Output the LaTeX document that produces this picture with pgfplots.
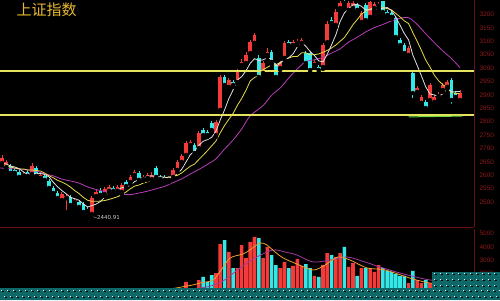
\documentclass[border=0pt]{standalone}
\usepackage{fontspec}
\setmainfont{Liberation Sans}
\newfontfamily\cjk{Noto Sans CJK SC}
\newfontfamily\dejavu{DejaVu Sans}
\usepackage{pgfplots}
\usepackage{pgfplotstable}
\pgfplotsset{compat=1.18}
\definecolor{cred}{RGB}{245,58,58}
\definecolor{ccyan}{RGB}{52,232,232}
\definecolor{dred}{RGB}{105,14,14}
\definecolor{dlab}{RGB}{140,26,26}
\definecolor{ma5}{RGB}{225,225,225}
\definecolor{ma10}{RGB}{230,220,70}
\definecolor{ma20}{RGB}{185,60,185}
\definecolor{hline}{RGB}{228,228,95}
\definecolor{gline}{RGB}{110,215,60}
\definecolor{gold}{RGB}{232,184,48}
\definecolor{vma1}{RGB}{235,160,50}
\definecolor{vma2}{RGB}{160,60,160}
\definecolor{teal1}{RGB}{14,104,104}

\pgfplotstableread{
i lo hi bot top
0 2638 2676 2646 2665
1 2624 2657 2631 2650
5 2590 2612 2598 2605
7 2598 2646 2605 2635
9 2583 2609 2590 2601
14 2500 2538 2508 2530
15 2463 2530 2515 2523
17 2493 2515 2500 2508
21 2440.91 2523 2456 2515
22 2515 2549 2523 2538
24 2523 2556 2530 2549
25 2534 2564 2542 2556
27 2534 2564 2542 2556
28 2530 2571 2538 2564
30 2568 2601 2575 2594
31 2594 2620 2601 2612
33 2579 2601 2586 2594
34 2583 2609 2590 2601
35 2579 2612 2586 2601
39 2575 2598 2583 2590
40 2586 2627 2594 2620
41 2612 2657 2620 2650
42 2642 2680 2650 2672
43 2668 2728 2676 2721
44 2706 2732 2713 2724
46 2695 2765 2702 2758
50 2743 2806 2750 2799
51 2836 2974 2844 2967
53 2922 2963 2930 2956
55 2941 2997 2948 2985
56 3004 3034 3012 3023
57 3012 3060 3019 3049
58 3049 3105 3056 3097
59 3086 3131 3094 3123
61 2974 3027 2982 3019
62 3041 3075 3049 3060
65 2993 3027 3000 3019
66 3030 3101 3038 3094
68 3079 3105 3086 3097
69 3086 3109 3094 3097
70 3086 3112 3094 3105
73 3004 3030 3012 3023
75 2997 3094 3004 3086
76 3090 3176 3097 3165
78 3153 3220 3161 3209
79 3217 3250 3224 3243
81 3209 3250 3217 3243
82 3217 3250 3224 3243
84 3165 3213 3172 3206
86 3183 3252 3191 3247
87 3217 3247 3224 3239
88 3224 3247 3232 3239
95 3041 3082 3049 3075
97 2903 2933 2911 2926
98 2862 2900 2870 2892
100 2874 2944 2881 2937
101 2866 2900 2874 2892
102 2889 2911 2896 2903
103 2911 2944 2918 2937
104 2922 2956 2930 2948
107 2874 2918 2881 2907
}\redtab

\pgfplotstableread{
i lo hi bot top
2 2601 2642 2609 2635
3 2601 2627 2609 2620
4 2586 2620 2594 2612
6 2590 2620 2598 2612
8 2590 2635 2598 2627
10 2575 2605 2583 2598
11 2545 2586 2553 2579
12 2527 2560 2534 2553
13 2508 2542 2515 2534
16 2482 2527 2489 2519
18 2474 2508 2482 2500
19 2456 2500 2463 2493
20 2460 2482 2467 2474
23 2519 2553 2527 2542
26 2534 2560 2542 2553
29 2553 2583 2560 2575
32 2575 2616 2583 2609
36 2586 2635 2594 2627
37 2579 2601 2586 2594
38 2575 2601 2583 2594
45 2676 2721 2683 2713
47 2743 2777 2750 2769
48 2743 2769 2750 2762
49 2762 2803 2769 2795
52 2930 2974 2937 2967
54 2930 2956 2937 2948
60 2959 3049 2967 3038
63 3015 3068 3023 3060
64 2959 3019 2967 3012
67 3079 3105 3086 3097
71 3012 3064 3019 3056
72 2985 3064 2993 3056
74 2985 3012 2993 3004
77 3161 3191 3168 3179
80 3235 3253 3243 3250
83 3209 3243 3217 3235
85 3172 3243 3179 3235
89 3202 3252 3209 3250
90 3191 3217 3198 3209
91 3183 3213 3191 3206
92 3109 3194 3116 3187
93 3079 3112 3086 3105
94 3049 3094 3056 3086
96 2881 2989 2907 2982
99 2844 2881 2851 2874
105 2859 2963 2881 2956
106 2885 2915 2892 2907
}\cyantab

\pgfplotstableread{
i v
0 700
1 650
5 600
7 700
9 600
14 700
15 800
17 650
21 850
22 700
24 680
25 640
27 660
28 700
30 720
31 750
33 700
34 680
35 700
39 700
40 780
41 820
42 860
43 1354
44 850
46 1504
50 2030
51 4211
53 3610
55 2406
56 4136
57 3158
58 4362
59 4738
61 3158
62 3986
65 2406
66 2858
68 2557
69 3083
70 2557
73 1805
75 2632
76 3534
78 3234
79 3534
81 2482
82 2782
84 2406
86 2406
87 2106
88 2632
95 1278
97 1504
98 1278
100 1278
101 1300
102 1500
103 1400
104 1600
107 1450
}\volred

\pgfplotstableread{
i v
2 700
3 600
4 650
6 620
8 650
10 620
11 700
12 750
13 720
16 750
18 700
19 780
20 750
23 650
26 620
29 680
32 760
36 750
37 700
38 680
45 880
47 1730
48 1354
49 1880
52 4512
54 2406
60 4662
63 3384
64 2632
67 2406
71 2707
72 2406
74 1730
77 3384
80 3986
83 1805
85 2406
89 2406
90 2181
91 2106
92 1955
93 1805
94 1805
96 2181
99 1504
105 1500
106 1350
}\volcyan

\pgfplotsset{
  candlewick/.style={only marks, mark=none, forget plot,
    error bars/.cd, y dir=plus, y explicit, error mark=none,
    error bar style={draw=#1, line width=0.9pt}},
  candlebody/.style={only marks, mark=none, forget plot,
    error bars/.cd, y dir=plus, y explicit, error mark=none,
    error bar style={draw=#1, line width=3.6pt}},
}

\begin{document}
\begin{tikzpicture}[x=1pt,y=1pt]
\useasboundingbox (0,0) rectangle (500,300);
\fill[black] (0,0) rectangle (500,300);

\begin{axis}[
  at={(0pt,73pt)}, anchor=south west, scale only axis,
  width=474pt, height=227pt,
  xmin=-0.467, xmax=110.28, ymin=2407.3, ymax=3254,
  axis y line*=right, axis x line*=bottom,
  axis line style={draw=dred, line width=0.8pt, -},
  xtick=\empty, ytick={2500,2550,...,3200},
  major tick length=0pt,
  yticklabel style={font=\fontsize{6.5}{7}\selectfont, text=dlab, xshift=2pt},
  /pgf/number format/assume math mode=true,
  /pgf/number format/1000 sep={},
]
% wicks
\addplot[candlewick=cred] table[x=i, y=lo, y error expr={\thisrow{hi}-\thisrow{lo}}] {\redtab};
\addplot[candlewick=ccyan] table[x=i, y=lo, y error expr={\thisrow{hi}-\thisrow{lo}}] {\cyantab};
% bodies
\addplot[candlebody=cred] table[x=i, y=bot, y error expr={\thisrow{top}-\thisrow{bot}}] {\redtab};
\addplot[candlebody=ccyan] table[x=i, y=bot, y error expr={\thisrow{top}-\thisrow{bot}}] {\cyantab};

% MA20
\addplot[ma20, line width=0.8pt, smooth, tension=0.5] coordinates {
(-0.5,2627) (0,2627) (2,2625) (4,2624) (6,2620) (8,2616) (10,2605) (12,2598) (14,2586) (16,2579) (18,2571) (20,2557) (22,2547) (24,2540) (26,2535) (28,2530) (30,2528) (32,2534) (34,2541) (36,2550) (38,2559) (40,2573) (42,2587) (44,2605) (46,2622) (48,2641) (50,2662) (52,2698) (54,2732) (56,2773) (58,2822) (61,2860) (63,2899) (65,2926) (67,2963) (69,2997) (71,3025) (73,3031) (75,3040) (77,3056) (79,3072) (81,3097) (83,3115) (85,3135) (87,3151) (89,3163) (91,3176) (93,3186) (95,3188) (97,3163) (99,3128) (101,3095) (103,3064) (105,3036) (107,3002)};
% MA10
\addplot[ma10, line width=0.8pt] coordinates {
(-0.5,2640) (0,2638) (1,2635) (2,2631) (3,2627) (4,2624) (5,2624) (6,2620) (7,2620) (8,2618) (9,2616) (10,2608) (11,2598) (12,2591) (13,2581) (14,2575) (15,2567) (16,2556) (17,2543) (18,2532) (19,2518) (20,2507) (21,2503) (22,2503) (23,2504) (24,2506) (25,2510) (26,2515) (27,2520) (28,2528) (29,2538) (30,2550) (31,2560) (32,2564) (33,2571) (34,2576) (35,2581) (36,2586) (37,2589) (38,2591) (39,2594) (40,2596) (41,2600) (42,2609) (43,2622) (44,2634) (45,2642) (46,2659) (47,2675) (48,2692) (49,2710) (50,2728) (51,2759) (52,2786) (53,2809) (54,2831) (55,2861) (56,2887) (57,2917) (58,2952) (59,2965) (60,2972) (61,2994) (62,3003) (63,3012) (64,3013) (65,3021) (66,3032) (67,3038) (68,3043) (69,3043) (70,3057) (71,3057) (72,3050) (73,3050) (74,3053) (75,3059) (76,3066) (77,3075) (78,3086) (79,3100) (80,3114) (81,3137) (82,3162) (83,3181) (84,3202) (85,3212) (86,3220) (87,3227) (88,3230) (89,3226) (90,3222) (91,3217) (92,3204) (93,3191) (94,3176) (95,3166) (96,3132) (97,3100) (98,3066) (99,3030) (100,3004) (101,2974) (102,2953) (103,2938) (104,2927) (105,2908) (106,2906) (107,2904)};
% MA5
\addplot[ma5, line width=0.8pt] coordinates {
(-0.5,2648) (0,2646) (1,2642) (2,2635) (3,2631) (4,2625) (5,2613) (6,2603) (7,2608) (8,2606) (9,2607) (10,2603) (11,2594) (12,2574) (13,2557) (14,2543) (15,2531) (16,2518) (17,2513) (18,2507) (19,2493) (20,2482) (21,2487) (22,2493) (23,2502) (24,2519) (25,2537) (26,2542) (27,2546) (28,2554) (29,2556) (30,2563) (31,2577) (32,2583) (33,2589) (34,2597) (35,2598) (36,2595) (37,2595) (38,2593) (39,2591) (40,2595) (41,2606) (42,2623) (43,2650) (44,2677) (45,2690) (46,2712) (47,2727) (48,2733) (49,2742) (50,2765) (51,2807) (52,2844) (53,2886) (54,2919) (55,2956) (56,2968) (57,2990) (58,3018) (59,3035) (60,3028) (61,3031) (62,3038) (63,3033) (64,3007) (65,3018) (66,3032) (67,3038) (68,3053) (69,3079) (70,3096) (71,3081) (72,3062) (73,3047) (74,3027) (75,3023) (76,3052) (77,3087) (78,3124) (79,3174) (80,3206) (81,3221) (82,3236) (83,3238) (84,3230) (85,3217) (86,3218) (87,3217) (88,3222) (89,3223) (90,3226) (91,3215) (92,3191) (93,3160) (94,3129) (95,3105) (96,3048) (97,3010) (98,2971) (99,2930) (100,2903) (101,2900) (102,2895) (103,2904) (104,2924) (105,2912) (106,2912) (107,2913)};

% horizontal levels
\addplot[hline, line width=1.3pt] coordinates {(-0.467,2989) (110.28,2989)};
\addplot[hline, line width=1.3pt] coordinates {(-0.467,2825) (110.28,2825)};
\addplot[gline, line width=1pt] coordinates {(95,2818) (107.5,2821)};

\node[anchor=west, inner sep=0pt, text={rgb,255:red,205;green,205;blue,205},
      font=\dejavu\fontsize{5.5}{6}\selectfont] at (axis cs:21.1,2440.91) {←2440.91};
\end{axis}

\begin{axis}[
  at={(0pt,0pt)}, anchor=south west, scale only axis,
  width=474pt, height=71pt,
  xmin=-0.467, xmax=110.28, ymin=0, ymax=5339,
  axis y line*=right, axis x line=none,
  axis line style={draw=dred, line width=0.8pt, -},
  xtick=\empty, ytick={2000,3000,4000,5000},
  major tick length=0pt,
  yticklabel style={font=\fontsize{6.5}{7}\selectfont, text=dlab, xshift=2pt},
  /pgf/number format/assume math mode=true,
  /pgf/number format/1000 sep={},
]
\addplot[ybar, bar width=3.6pt, bar shift=0pt, fill=cred, draw=none] table[x=i, y=v] {\volred};
\addplot[ybar, bar width=3.6pt, bar shift=0pt, fill=ccyan, draw=none] table[x=i, y=v] {\volcyan};
\addplot[vma2, line width=0.8pt, smooth, tension=0.5] coordinates {
(-0.5,650) (0,650) (34.6,602) (46.3,902) (51.2,1354) (55.6,2406) (59.1,3158) (63.3,3760) (66.1,3610) (68.9,3384) (72.7,2858) (76.6,3008) (80.6,3234) (84.8,2858) (88.3,2482) (93,2030) (100,1504) (107,1354)};
\addplot[vma1, line width=0.8pt, smooth, tension=0.5] coordinates {
(-0.5,700) (0,700) (34.6,752) (43.2,1053) (46.3,1278) (49.3,1504) (51.2,2256) (53.3,3158) (56.3,3459) (57.9,3760) (60.3,4286) (61.9,4136) (63.8,3610) (65.7,3158) (68.9,2707) (72.7,2256) (75.5,2632) (78.5,3234) (81.3,3008) (85.3,2406) (89.5,2256) (96,1579) (100,1278) (103.5,1203) (107,1278)};
\end{axis}

% watermark band at the bottom
\fill[teal1] (0,0) rectangle (500,12);
\fill[teal1] (432,0) rectangle (500,28);
\foreach \x in {1,7,...,499} {
  \fill[white!90!gray] (\x,9) rectangle +(1.3,1.3);
  \fill[black] (\x+1.3,7.7) rectangle +(1.3,1.3);
}
\foreach \x in {4,10,...,499} {
  \fill[white!90!gray] (\x,3) rectangle +(1.3,1.3);
  \fill[black] (\x+1.3,1.7) rectangle +(1.3,1.3);
}
\foreach \y in {14,20,26} {
  \foreach \x in {434,440,...,499} {
    \fill[white!90!gray] (\x,\y) rectangle +(1.3,1.3);
    \fill[black] (\x+1.3,\y-1.3) rectangle +(1.3,1.3);
  }
}

% title
\node[anchor=base west, inner sep=0pt, text=gold, font=\cjk\fontsize{15}{15}\selectfont] at (16.5,284.5) {上证指数};
\end{tikzpicture}
\end{document}
